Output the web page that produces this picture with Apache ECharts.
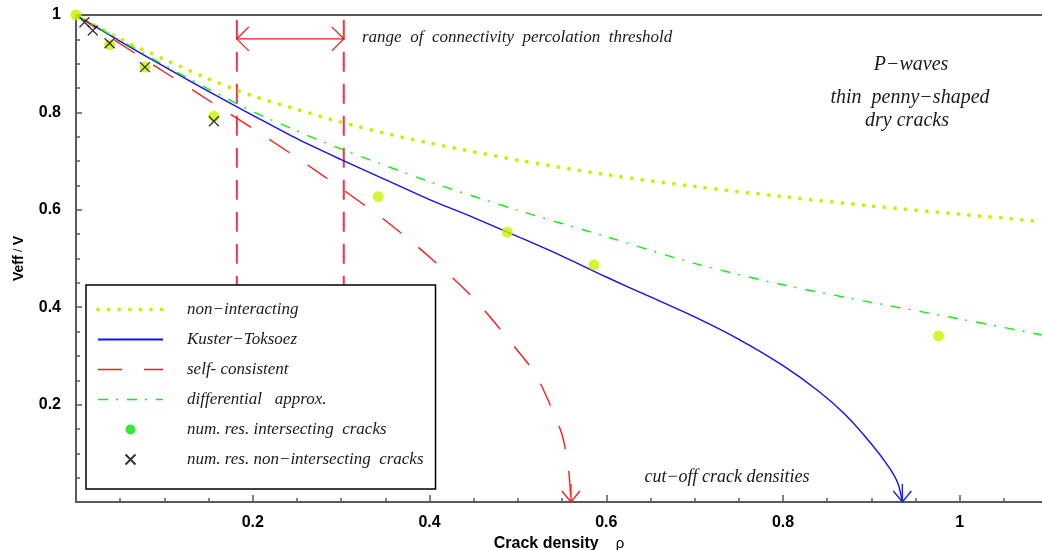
<!DOCTYPE html>
<html>
<head>
<meta charset="utf-8">
<script src="https://cdn.jsdelivr.net/npm/echarts@6/dist/echarts.min.js"></script>
<style>
  html, body { margin: 0; padding: 0; background: #fff; }
  #chart { width: 1042px; height: 550px; }
</style>
</head>
<body>
<div id="chart"></div>
<script>
// Normalised P-wave velocity versus crack density for thin penny-shaped dry cracks

// non-interacting (dilute) estimate
const rhoNonInteracting = [0, 0.05, 0.1, 0.15, 0.2, 0.25, 0.3, 0.35, 0.4, 0.45, 0.5, 0.6, 0.7, 0.8, 0.9, 1.0, 1.093];
const vNonInteracting   = [1, 0.951, 0.909, 0.869, 0.834, 0.806, 0.780, 0.757, 0.737, 0.719, 0.702, 0.672, 0.648, 0.627, 0.608, 0.591, 0.576];

// Kuster-Toksoez scheme
const rhoKusterToksoez = [0, 0.05, 0.1, 0.15, 0.2, 0.25, 0.3, 0.35, 0.4, 0.45, 0.5, 0.55, 0.6, 0.65, 0.7, 0.75, 0.8, 0.84, 0.87, 0.9, 0.92, 0.93, 0.935];
const vKusterToksoez   = [1, 0.946, 0.894, 0.843, 0.794, 0.746, 0.703, 0.662, 0.621, 0.584, 0.545, 0.505, 0.462, 0.421, 0.380, 0.334, 0.280, 0.228, 0.180, 0.119, 0.071, 0.038, 0];

// self-consistent scheme
const rhoSelfConsistent = [0, 0.05, 0.1, 0.15, 0.2, 0.25, 0.3, 0.35, 0.4, 0.45, 0.5, 0.52, 0.54, 0.55, 0.555, 0.558, 0.56];
const vSelfConsistent   = [1, 0.941, 0.883, 0.825, 0.767, 0.707, 0.644, 0.578, 0.503, 0.418, 0.310, 0.262, 0.185, 0.138, 0.095, 0.055, 0];

// differential scheme
const rhoDifferential = [0, 0.05, 0.1, 0.15, 0.2, 0.25, 0.3, 0.4, 0.5, 0.6, 0.7, 0.8, 0.9, 1.0, 1.093];
const vDifferential   = [1, 0.948, 0.897, 0.848, 0.802, 0.762, 0.725, 0.658, 0.599, 0.545, 0.490, 0.446, 0.410, 0.376, 0.343];

// numerical results
const rhoIntersecting = [0, 0.038, 0.078, 0.156, 0.342, 0.488, 0.586, 0.976];
const vIntersecting   = [1, 0.939, 0.893, 0.792, 0.627, 0.554, 0.487, 0.341];
const rhoNonIntersecting = [0.0096, 0.019, 0.038, 0.078, 0.156];
const vNonIntersecting   = [0.985, 0.968, 0.942, 0.893, 0.782];

// connectivity percolation threshold range and cut-off crack densities
const thresholdRange = [0.182, 0.303];
const cutoffRho = [0.56, 0.935];

// axis ticks
const xMajorTicks = [0.2, 0.4, 0.6, 0.8, 1.0];
const xTickLabels = ['0.2', '0.4', '0.6', '0.8', '1'];
const xMinorTicks = [0.05, 0.1, 0.15, 0.25, 0.3, 0.35, 0.45, 0.5, 0.55, 0.65, 0.7, 0.75, 0.85, 0.9, 0.95, 1.05];
const yMajorTicks = [0.2, 0.4, 0.6, 0.8, 1.0];
const yTickLabels = ['0.2', '0.4', '0.6', '0.8', '1'];
const yMinorTicks = [0.05, 0.1, 0.15, 0.25, 0.3, 0.35, 0.45, 0.5, 0.55, 0.65, 0.7, 0.75, 0.85, 0.9, 0.95];

const seriesNames = [
  'non\u2212interacting',
  'Kuster\u2212Toksoez',
  'self- consistent',
  'differential   approx.',
  'num. res. intersecting  cracks',
  'num. res. non\u2212intersecting  cracks'
];

const pair = (xs, ys) => xs.map((x, i) => [x, ys[i]]);

const X_MAX = 1.093;
const SANS = 'Liberation Sans, Arial, sans-serif';
const SERIF = 'Liberation Serif, Times New Roman, serif';
const AXIS_COLOR = '#5a5a5a';
const TEXT_COLOR = '#1a1a1a';
const DOT_GREEN = '#c8f200';
const cutoffColors = ['#ff1a1a', '#1a1aff'];

const chart = echarts.init(document.getElementById('chart'), null, { renderer: 'canvas' });

const serifItalic = size => ({ fontFamily: SERIF, fontStyle: 'italic', fontSize: size, fill: TEXT_COLOR });
// hides the marker that line series put in the middle of their legend icon
const noMarker = { itemStyle: { color: 'rgba(0,0,0,0)', borderWidth: 0 } };

const option = {
  animation: false,
  backgroundColor: '#ffffff',
  grid: { left: 76, right: 0, top: 15, bottom: 48, containLabel: false, outerBoundsMode: 'none' },
  xAxis: [
    {
      type: 'value', min: 0, max: X_MAX, position: 'bottom',
      axisLine: { lineStyle: { color: AXIS_COLOR, width: 2 } },
      axisTick: { inside: true, length: 7, customValues: xMajorTicks, lineStyle: { color: AXIS_COLOR, width: 1.5 } },
      axisLabel: {
        customValues: xMajorTicks,
        formatter: v => xTickLabels[xMajorTicks.indexOf(v)] || '',
        color: '#000', fontFamily: SANS, fontWeight: 'bold', fontSize: 16, margin: 13
      },
      splitLine: { show: false },
      name: '{b|Crack density}{r|\u03c1}',
      nameLocation: 'middle', nameGap: 31,
      nameTextStyle: {
        rich: {
          b: { fontFamily: SANS, fontWeight: 'bold', fontSize: 16, color: '#000' },
          r: { fontFamily: SANS, fontSize: 15, color: '#000', padding: [0, 0, 0, 17] }
        }
      }
    },
    {
      type: 'value', min: 0, max: X_MAX, position: 'bottom',
      axisLine: { show: false },
      axisTick: { inside: true, length: 4, customValues: xMinorTicks, lineStyle: { color: AXIS_COLOR, width: 1.5 } },
      axisLabel: { show: false },
      splitLine: { show: false }
    },
    {
      type: 'value', min: 0, max: X_MAX, position: 'top',
      axisLine: { lineStyle: { color: AXIS_COLOR, width: 2 } },
      axisTick: { show: false },
      axisLabel: { show: false },
      splitLine: { show: false }
    }
  ],
  yAxis: [
    {
      type: 'value', min: 0, max: 1, position: 'left',
      axisLine: { lineStyle: { color: AXIS_COLOR, width: 2 } },
      axisTick: { inside: true, length: 6, customValues: yMajorTicks, lineStyle: { color: AXIS_COLOR, width: 1.5 } },
      axisLabel: {
        customValues: yMajorTicks,
        formatter: v => yTickLabels[yMajorTicks.indexOf(v)] || '',
        color: '#000', fontFamily: SANS, fontWeight: 'bold', fontSize: 16, margin: 15
      },
      splitLine: { show: false },
      name: '{b|Veff} {s|/} {b|V}',
      nameLocation: 'middle', nameRotate: 90, nameGap: 50,
      nameTextStyle: {
        rich: {
          b: { fontFamily: SANS, fontWeight: 'bold', fontSize: 14, color: '#000' },
          s: { fontFamily: SANS, fontSize: 12, color: '#000' }
        }
      }
    },
    {
      type: 'value', min: 0, max: 1, position: 'left',
      axisLine: { show: false },
      axisTick: { inside: true, length: 4, customValues: yMinorTicks, lineStyle: { color: AXIS_COLOR, width: 1.5 } },
      axisLabel: { show: false },
      splitLine: { show: false }
    }
  ],
  legend: {
    orient: 'vertical',
    left: 86, top: 285,
    padding: [16, 12, 21, 10],
    backgroundColor: '#ffffff',
    borderColor: '#000000', borderWidth: 1.5,
    itemWidth: 65, itemHeight: 10, itemGap: 13,
    selectedMode: false,
    lineStyle: { width: 'inherit' },
    textStyle: {
      fontFamily: SERIF, fontStyle: 'italic', fontSize: 17, lineHeight: 17,
      color: TEXT_COLOR, padding: [0, 0, 0, 19]
    },
    data: [
      Object.assign({ name: seriesNames[0] }, noMarker),
      Object.assign({ name: seriesNames[1], lineStyle: { width: 2 } }, noMarker),
      Object.assign({ name: seriesNames[2] }, noMarker),
      Object.assign({ name: seriesNames[3] }, noMarker),
      { name: seriesNames[4], itemStyle: { color: '#00e600' } },
      { name: seriesNames[5] }
    ]
  },
  graphic: [
    { type: 'text', left: 362, top: 29, style: Object.assign({ text: 'range  of  connectivity  percolation  threshold' }, serifItalic(17)) },
    { type: 'text', x: 911, y: 65, style: Object.assign({ text: 'P\u2212waves', align: 'center', verticalAlign: 'middle' }, serifItalic(20)) },
    { type: 'text', x: 910, y: 98, style: Object.assign({ text: 'thin  penny\u2212shaped', align: 'center', verticalAlign: 'middle' }, serifItalic(20)) },
    { type: 'text', x: 907, y: 121, style: Object.assign({ text: 'dry cracks', align: 'center', verticalAlign: 'middle' }, serifItalic(20)) },
    { type: 'text', x: 727, y: 477, style: Object.assign({ text: 'cut\u2212off crack densities', align: 'center', verticalAlign: 'middle' }, serifItalic(18)) }
  ],
  series: [
    {
      name: seriesNames[0], type: 'line', xAxisIndex: 0, yAxisIndex: 0,
      data: pair(rhoNonInteracting, vNonInteracting),
      smooth: 0.3, symbol: 'none', z: 3,
      itemStyle: { color: DOT_GREEN },
      lineStyle: { color: DOT_GREEN, width: 4, type: [0, 10.6], cap: 'round' }
    },
    {
      name: seriesNames[1], type: 'line', xAxisIndex: 0, yAxisIndex: 0,
      data: pair(rhoKusterToksoez, vKusterToksoez),
      smooth: 0.3, symbol: 'none', z: 3,
      itemStyle: { color: '#1010ff' },
      lineStyle: { color: '#1010ff', width: 1.4 }
    },
    {
      name: seriesNames[2], type: 'line', xAxisIndex: 0, yAxisIndex: 0,
      data: pair(rhoSelfConsistent, vSelfConsistent),
      smooth: 0.3, symbol: 'none', z: 3,
      itemStyle: { color: '#ff1a1a' },
      lineStyle: { color: '#ff1a1a', width: 1.4, type: [24, 22] }
    },
    {
      name: seriesNames[3], type: 'line', xAxisIndex: 0, yAxisIndex: 0,
      data: pair(rhoDifferential, vDifferential),
      smooth: 0.3, symbol: 'none', z: 3,
      itemStyle: { color: '#10ee10' },
      lineStyle: { color: '#10ee10', width: 1.4, type: [10, 8, 2, 9] }
    },
    {
      name: seriesNames[4], type: 'scatter', xAxisIndex: 0, yAxisIndex: 0,
      data: pair(rhoIntersecting, vIntersecting),
      symbol: 'circle', symbolSize: 11, z: 4,
      itemStyle: { color: DOT_GREEN }
    },
    {
      name: seriesNames[5], type: 'scatter', xAxisIndex: 0, yAxisIndex: 0,
      data: pair(rhoNonIntersecting, vNonIntersecting),
      symbol: 'path://M0,0L10,10M10,0L0,10', symbolSize: 10, z: 5,
      itemStyle: { color: 'rgba(0,0,0,0)', borderColor: '#000', borderWidth: 1.3 }
    },
    {
      // percolation threshold bounds with a double-headed arrow between them
      type: 'custom', xAxisIndex: 0, yAxisIndex: 0, z: 2,
      data: [thresholdRange],
      encode: { x: [0, 1] },
      renderItem: (params, api) => {
        const lo = api.value(0), hi = api.value(1);
        const aTop = api.coord([lo, 0.99]), aBot = api.coord([lo, 0.42]);
        const bTop = api.coord([hi, 0.99]), bBot = api.coord([hi, 0.42]);
        const l = api.coord([lo, 0.951]), r = api.coord([hi, 0.951]);
        const dashed = { stroke: '#f03848', lineWidth: 2, lineDash: [20, 12] };
        const solid = { stroke: '#f01818', lineWidth: 1.3, fill: null };
        return {
          type: 'group',
          children: [
            { type: 'line', shape: { x1: aTop[0], y1: aTop[1], x2: aBot[0], y2: aBot[1] }, style: dashed },
            { type: 'line', shape: { x1: bTop[0], y1: bTop[1], x2: bBot[0], y2: bBot[1] }, style: dashed },
            { type: 'line', shape: { x1: l[0], y1: l[1], x2: r[0], y2: r[1] }, style: solid },
            { type: 'polyline', shape: { points: [[l[0] + 12, l[1] - 12], [l[0], l[1]], [l[0] + 12, l[1] + 12]] }, style: solid },
            { type: 'polyline', shape: { points: [[r[0] - 12, r[1] - 12], [r[0], r[1]], [r[0] - 12, r[1] + 12]] }, style: solid }
          ]
        };
      }
    },
    {
      // downward arrows marking the cut-off crack densities
      type: 'custom', xAxisIndex: 0, yAxisIndex: 0, z: 4,
      data: cutoffRho.map(v => [v]),
      encode: { x: 0 },
      renderItem: (params, api) => {
        const p = api.coord([api.value(0), 0]);
        const c = cutoffColors[params.dataIndex];
        const st = { stroke: c, lineWidth: 1.4, fill: null };
        return {
          type: 'group',
          children: [
            { type: 'line', shape: { x1: p[0], y1: p[1] - 18, x2: p[0], y2: p[1] }, style: st },
            { type: 'polyline', shape: { points: [[p[0] - 9, p[1] - 11], [p[0], p[1]], [p[0] + 9, p[1] - 11]] }, style: st }
          ]
        };
      }
    }
  ]
};

chart.setOption(option);
</script>
</body>
</html>
